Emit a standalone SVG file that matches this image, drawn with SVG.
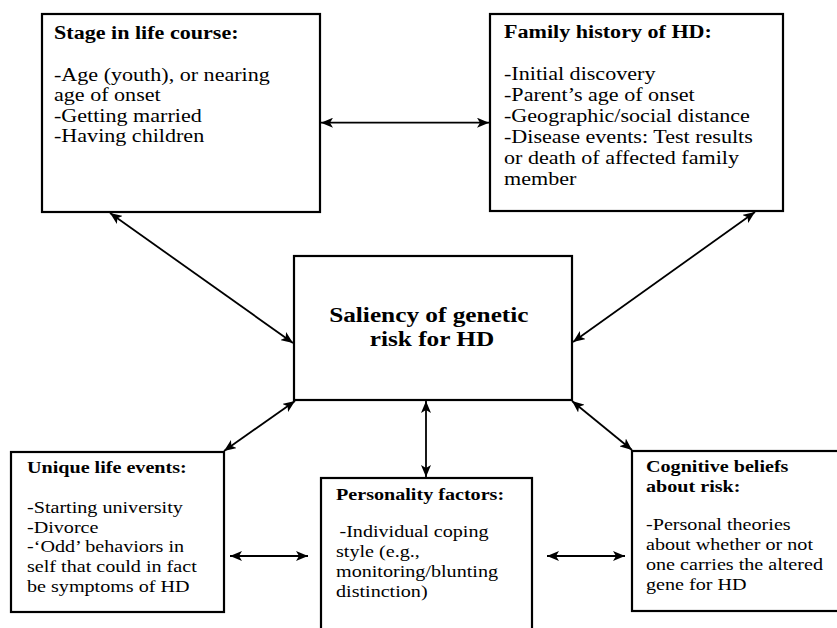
<svg xmlns="http://www.w3.org/2000/svg" width="837" height="628" viewBox="0 0 837 628">
  <style>
    .box { fill: #ffffff; stroke: #000000; stroke-width: 2.2; }
    .t { font-family: "Liberation Serif", "Times New Roman", serif; fill: #000000; }
    .b { font-weight: bold; }
    .big { font-size: 19.2px; }
    .sm { font-size: 17.5px; }
    .ctr { font-size: 22px; font-weight: bold; text-anchor: middle; }
    .con { stroke: #000000; stroke-width: 1.8; fill: none; marker-start: url(#ah); marker-end: url(#ah); }
  </style>
  <defs>
    <marker id="ah" viewBox="0 0 12 10" refX="12" refY="5" markerWidth="12" markerHeight="10" markerUnits="userSpaceOnUse" orient="auto-start-reverse">
      <path d="M0,0 L12,5 L0,10 L3,5 Z" fill="#000000"/>
    </marker>
  </defs>
  <rect width="837" height="628" fill="#ffffff"/>

  <g id="stage">
    <rect class="box" x="42" y="14" width="278" height="198"/>
    <text class="t big" transform="translate(54,0) scale(1.15,1)">
      <tspan class="b" x="0" y="39">Stage in life course:</tspan>
      <tspan x="0" y="81">-Age (youth), or nearing</tspan>
      <tspan x="0" y="101.5">age of onset</tspan>
      <tspan x="0" y="122">-Getting married</tspan>
      <tspan x="0" y="142.5">-Having children</tspan>
    </text>
  </g>

  <g id="family">
    <rect class="box" x="490" y="14" width="293" height="197"/>
    <text class="t big" transform="translate(504,0) scale(1.15,1)">
      <tspan class="b" x="0" y="38">Family history of HD:</tspan>
      <tspan x="0" y="80">-Initial discovery</tspan>
      <tspan x="0" y="101">-Parent’s age of onset</tspan>
      <tspan x="0" y="122">-Geographic/social distance</tspan>
      <tspan x="0" y="143">-Disease events: Test results</tspan>
      <tspan x="0" y="164">or death of affected family</tspan>
      <tspan x="0" y="185">member</tspan>
    </text>
  </g>

  <g id="saliency">
    <rect class="box" x="294" y="256" width="278" height="144"/>
    <text class="t ctr" transform="translate(432,0) scale(1.15,1)">
      <tspan x="0" y="322">Saliency of genetic</tspan>
      <tspan x="0" y="346">risk for HD</tspan>
    </text>
  </g>

  <g id="unique">
    <rect class="box" x="11" y="452" width="213" height="160"/>
    <text class="t sm" transform="translate(27,0) scale(1.15,1)">
      <tspan class="b" x="0" y="473">Unique life events:</tspan>
      <tspan x="0" y="513">-Starting university</tspan>
      <tspan x="0" y="532.7">-Divorce</tspan>
      <tspan x="0" y="552.4">-‘Odd’ behaviors in</tspan>
      <tspan x="0" y="572.1">self that could in fact</tspan>
      <tspan x="0" y="591.8">be symptoms of HD</tspan>
    </text>
  </g>

  <g id="personality">
    <rect class="box" x="321" y="478" width="211" height="160"/>
    <text class="t sm" transform="translate(336,0) scale(1.15,1)">
      <tspan class="b" x="0" y="500">Personality factors:</tspan>
      <tspan x="3" y="537">-Individual coping</tspan>
      <tspan x="0" y="557">style (e.g.,</tspan>
      <tspan x="0" y="577">monitoring/blunting</tspan>
      <tspan x="0" y="597">distinction)</tspan>
    </text>
  </g>

  <g id="cognitive">
    <rect class="box" x="632" y="451" width="215" height="160"/>
    <text class="t sm" transform="translate(646,0) scale(1.15,1)">
      <tspan class="b" x="0" y="472">Cognitive beliefs</tspan>
      <tspan class="b" x="0" y="492">about risk:</tspan>
      <tspan x="0" y="530">-Personal theories</tspan>
      <tspan x="0" y="550">about whether or not</tspan>
      <tspan x="0" y="570">one carries the altered</tspan>
      <tspan x="0" y="590">gene for HD</tspan>
    </text>
  </g>

  <g id="connectors">
    <path class="con" d="M321,122.7 L489,122.7"/>
    <path class="con" d="M110,213 L293,343"/>
    <path class="con" d="M755,212 L573,342"/>
    <path class="con" d="M295,401 L224,451"/>
    <path class="con" d="M426,401 L426,477"/>
    <path class="con" d="M572,401 L632,450"/>
    <path class="con" d="M230,556 L308,556"/>
    <path class="con" d="M547,556 L625,556"/>
  </g>
</svg>
